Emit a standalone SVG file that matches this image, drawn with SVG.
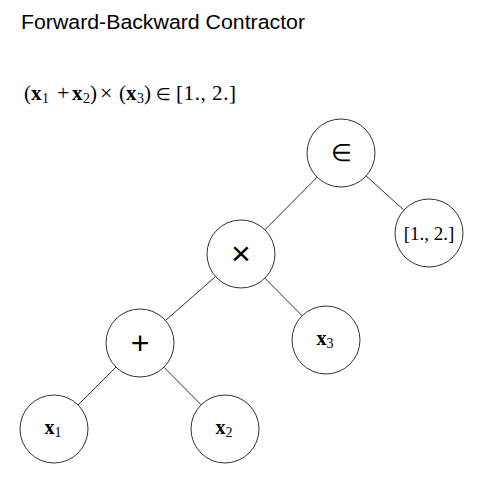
<svg xmlns="http://www.w3.org/2000/svg" width="486" height="490" viewBox="0 0 486 490">
<style>
.n{fill:#fff;stroke:#333;stroke-width:1}
.e{stroke:#333;stroke-width:1}
.op{font-family:"Liberation Sans",Arial,sans-serif;text-anchor:middle;fill:#000}
.m{font-family:"Liberation Serif","Times New Roman",serif;font-size:19px;fill:#000}
.f{font-size:21px}
.l{font-size:20px}
.b{font-weight:bold}
.s{font-size:14px}
.o{font-size:22px}
</style>
<rect width="486" height="490" fill="#fff"/>
<text x="21" y="29" font-family="Liberation Sans,Arial,sans-serif" font-size="20.5" fill="#000" textLength="284" lengthAdjust="spacingAndGlyphs">Forward-Backward Contractor</text>
<text class="m f" y="100"><tspan x="24">(</tspan><tspan class="b" x="31">x</tspan><tspan class="s" x="42" dy="3">1</tspan><tspan class="o" x="57" dy="-3">+</tspan><tspan class="b" x="72">x</tspan><tspan class="s" x="83" dy="3">2</tspan><tspan x="90" dy="-3">)</tspan><tspan class="o" x="100">×</tspan><tspan x="119">(</tspan><tspan class="b" x="126">x</tspan><tspan class="s" x="137" dy="3">3</tspan><tspan x="144" dy="-3">)</tspan><tspan x="156" font-family="DejaVu Sans,sans-serif" font-size="17">∈</tspan><tspan x="176" textLength="60" lengthAdjust="spacing">[1., 2.]</tspan></text>
<g id="edges">
<line class="e" x1="317.1" y1="177.2" x2="264.9" y2="229.8"/>
<line class="e" x1="366.2" y1="175.9" x2="403.8" y2="210.1"/>
<line class="e" x1="264.9" y1="278.2" x2="302.1" y2="315.8"/>
<line class="e" x1="215.5" y1="276.5" x2="165.5" y2="320.5"/>
<line class="e" x1="116" y1="367" x2="78" y2="405"/>
<line class="e" x1="163.9" y1="367.2" x2="201.1" y2="404.8"/>
</g>
<g id="in"><circle class="n" cx="341" cy="153" r="34"/><text class="op" x="341" y="161" font-size="24">∈</text></g>
<g id="interval"><circle class="n" cx="429" cy="233" r="34"/><text class="m" x="429" y="240" text-anchor="middle">[1., 2.]</text></g>
<g id="times"><circle class="n" cx="241" cy="254" r="34"/><text class="op" x="241" y="265" font-size="34">×</text></g>
<g id="x3"><circle class="n" cx="326" cy="340" r="34"/><text class="m l" x="325" y="345" text-anchor="middle"><tspan class="b">x</tspan><tspan class="s" dy="3">3</tspan></text></g>
<g id="plus"><circle class="n" cx="140" cy="343" r="34"/><text class="op" x="140" y="354" font-size="32">+</text></g>
<g id="x1"><circle class="n" cx="54" cy="429" r="34"/><text class="m l" x="53" y="434" text-anchor="middle"><tspan class="b">x</tspan><tspan class="s" dy="3">1</tspan></text></g>
<g id="x2"><circle class="n" cx="225" cy="429" r="34"/><text class="m l" x="224" y="434" text-anchor="middle"><tspan class="b">x</tspan><tspan class="s" dy="3">2</tspan></text></g>
</svg>
